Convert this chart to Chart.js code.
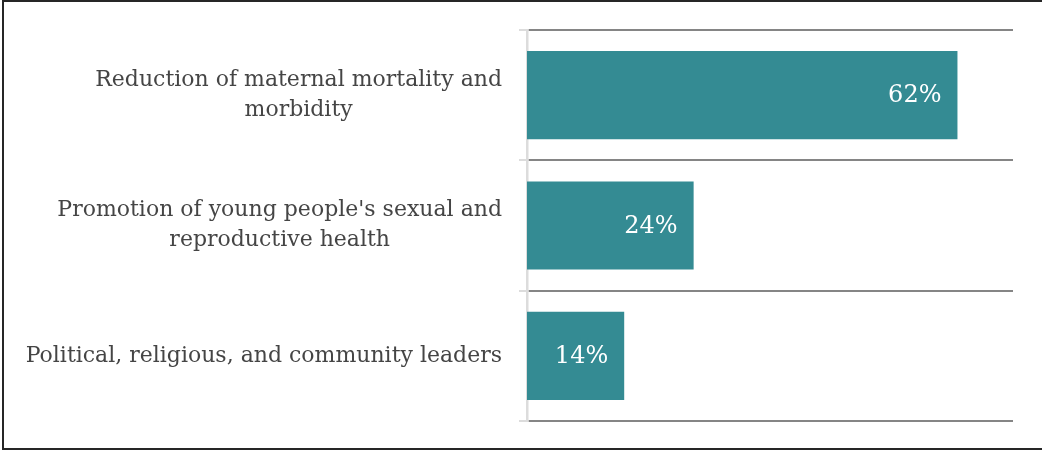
<!DOCTYPE html>
<html>
<head>
<meta charset="utf-8">
<script src="https://cdn.jsdelivr.net/npm/chart.js@4"></script>
<style>
  html, body { margin: 0; padding: 0; background: #fff; }
  #wrap { position: relative; width: 1042px; height: 450px; }
  #frame {
    position: absolute; left: 2px; top: 0; width: 1040px; height: 450px;
    box-sizing: border-box;
    border-top: 2px solid #262626; border-left: 2px solid #262626; border-bottom: 2px solid #262626;
    pointer-events: none;
  }
  canvas { position: absolute; left: 0; top: 0; }
</style>
</head>
<body>
<div id="wrap">
  <canvas id="chart" width="1042" height="450"></canvas>
  <div id="frame"></div>
</div>
<script>
// Categories (each entry is a list of lines) and their shares in percent
const categories = [
  ["Reduction of maternal mortality and", "morbidity"],
  ["Promotion of young people's sexual and", "reproductive health"],
  ["Political, religious, and community leaders"]
];
const shares = [62, 24, 14];
const valueLabels = ["62%", "24%", "14%"];

const FONT = '"DejaVu Serif", "Liberation Serif", serif';
const BAR_COLOR = '#348b93';

// Category labels: each block right-aligned, its lines centred within the block
const categoryLabelPlugin = {
  id: 'categoryLabels',
  afterDraw(chart) {
    const ctx = chart.ctx;
    const y = chart.scales.y;
    const rightEdge = chart.chartArea.left - 25;
    const lineHeight = 30;
    ctx.save();
    ctx.font = '22px ' + FONT;
    ctx.fillStyle = '#454545';
    ctx.textBaseline = 'middle';
    ctx.textAlign = 'center';
    categories.forEach((lines, i) => {
      const cy = y.getPixelForTick(i);
      const blockW = Math.max(...lines.map(l => ctx.measureText(l).width));
      const cx = rightEdge - blockW / 2;
      const startY = cy - (lines.length - 1) * lineHeight / 2;
      lines.forEach((l, k) => ctx.fillText(l, cx, startY + k * lineHeight));
    });
    ctx.restore();
  }
};

// Value labels inside the end of each bar
const valueLabelPlugin = {
  id: 'valueLabels',
  afterDatasetsDraw(chart) {
    const ctx = chart.ctx;
    const meta = chart.getDatasetMeta(0);
    ctx.save();
    ctx.font = '24px ' + FONT;
    ctx.fillStyle = '#ffffff';
    ctx.textAlign = 'right';
    ctx.textBaseline = 'middle';
    meta.data.forEach((bar, i) => {
      ctx.fillText(valueLabels[i], bar.x - 16, bar.y + 1);
    });
    ctx.restore();
  }
};

new Chart(document.getElementById('chart'), {
  type: 'bar',
  data: {
    labels: categories,
    datasets: [{
      data: shares,
      backgroundColor: BAR_COLOR,
      borderWidth: 0,
      barPercentage: 0.677,
      categoryPercentage: 1
    }]
  },
  plugins: [categoryLabelPlugin, valueLabelPlugin],
  options: {
    indexAxis: 'y',
    responsive: false,
    animation: false,
    events: [],
    layout: { padding: { top: 30, bottom: 29, left: 0, right: 29 } },
    plugins: { legend: { display: false }, tooltip: { enabled: false } },
    scales: {
      x: {
        min: 0, max: 70,
        display: false,
        grid: { display: false }
      },
      y: {
        afterFit(scale) { scale.width = 527; },
        ticks: { display: false },
        grid: {
          offset: true,
          color: '#858585',
          lineWidth: 2,
          tickColor: '#dcdcdc',
          tickLength: 8,
          drawTicks: true
        },
        border: { display: true, color: '#dcdcdc', width: 2.5 }
      }
    }
  }
});
</script>
</body>
</html>
